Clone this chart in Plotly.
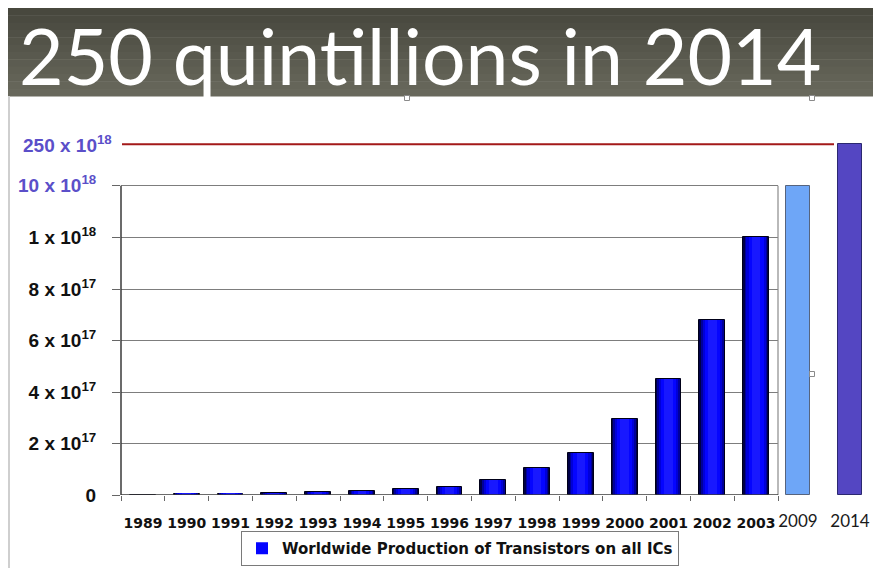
import plotly.graph_objects as go

# ---------------- data ----------------
years_main = ["1989", "1990", "1991", "1992", "1993", "1994", "1995", "1996",
              "1997", "1998", "1999", "2000", "2001", "2002", "2003"]
# worldwide transistor production, in units of 1e17
transistors_main = [0, 0.05, 0.05, 0.06, 0.10, 0.14, 0.24, 0.33,
                    0.58, 1.04, 1.62, 2.94, 4.50, 6.80, 10.16]
years_extra = ["2009", "2014"]
transistors_extra = [100, 2500]          # 10 x 10^18 and 250 x 10^18
reference_value = 2500                   # 250 quintillions line

ytick_values = [0, 2, 4, 6, 8, 10, 100]
PURPLE = "#5b4fc9"
ytick_labels = ["0", "2 x 10<sup>17</sup>", "4 x 10<sup>17</sup>", "6 x 10<sup>17</sup>",
                "8 x 10<sup>17</sup>", "1 x 10<sup>18</sup>",
                f'<span style="color:{PURPLE}">10 x 10<sup>18</sup></span>']
reference_label = "250 x 10<sup>18</sup>"
title_text = "250 quintillions in 2014"
legend_name = "Worldwide Production of Transistors on all ICs"


# broken (piecewise) value axis, as in the slide
def scale(u):
    if u <= 10:
        return u
    if u <= 100:
        return 10 + (u - 10) * (2.01 / 90)
    return 12.01 + (u - 100) * (1.61 / 2400)


def scale_list(vals):
    return [scale(v) for v in vals]


# the page body has an 8px margin: the figure starts at (8, 8) in the window
OFF = 8
W, H = 881 - OFF, 576 - 2 * OFF


def px_x(p):
    return min(1.0, max(0.0, (p - OFF) / W))


def px_y(p):
    return min(1.0, max(0.0, 1 - (p - OFF) / H))


PX_PER_UNIT = 25.75
Y_ZERO_PX, Y_TOP_PX = 495, 100
y_range = [0, (Y_ZERO_PX - Y_TOP_PX) / PX_PER_UNIT]
y_domain = [px_y(Y_ZERO_PX), px_y(Y_TOP_PX)]
X_LEFT_PX, X_RIGHT_PX = 121, 778

fig = go.Figure()

# gradient-like bars built from overlaid layers
layers = [
    (0.587, "#000048", dict(color="#000018", width=1), False),
    (0.52, "#00009a", dict(width=0), False),
    (0.44, "#0000d8", dict(width=0), False),
    (0.34, "#0505ff", dict(color="#0000e0", width=0), True),
    (0.20, "#1818ff", dict(width=0), False),
]
for w, c, ln, leg in layers:
    fig.add_trace(go.Bar(
        x=years_main, y=scale_list(transistors_main), width=w,
        marker=dict(color=c, line=ln),
        name=legend_name, showlegend=leg,
        xaxis="x", yaxis="y"))

fig.add_trace(go.Bar(
    x=years_extra, y=scale_list(transistors_extra), width=0.48,
    marker=dict(color=["#6ea6f7", "#5446c2"],
                line=dict(color=["#56647e", "#2b2870"], width=1)),
    showlegend=False, xaxis="x2", yaxis="y2"))

shapes = []
# header band with soft vertical gradient
n = 12
top, bot = 8, 96
c0, c1 = (72, 72, 62), (104, 104, 92)
for i in range(n):
    t = i / (n - 1)
    col = tuple(int(c0[k] + (c1[k] - c0[k]) * t) for k in range(3))
    y0 = top + (bot - top) * i / n
    y1 = top + (bot - top) * (i + 1) / n
    shapes.append(dict(type="rect", xref="paper", yref="paper",
                       x0=0, x1=1.0, y0=px_y(y1 + 0.5), y1=px_y(y0),
                       fillcolor="rgb(%d,%d,%d)" % col, line=dict(width=0), layer="below"))
# left slide border
shapes.append(dict(type="line", xref="paper", yref="paper", x0=px_x(9), x1=px_x(9),
                   y0=0, y1=px_y(96), line=dict(color="#cfcfcf", width=2)))
# frame of the chart
top_val = scale(100)
xl, xr = px_x(X_LEFT_PX), px_x(X_RIGHT_PX)
shapes.append(dict(type="line", xref="paper", yref="y", x0=xl, x1=xl, y0=0, y1=top_val,
                   line=dict(color="#3a3a3a", width=1.5)))
shapes.append(dict(type="line", xref="paper", yref="y", x0=xr, x1=xr, y0=0, y1=top_val,
                   line=dict(color="#8a8a8a", width=1.2)))
shapes.append(dict(type="line", xref="paper", yref="y", x0=xl, x1=xr, y0=0, y1=0,
                   line=dict(color="#3a3a3a", width=1.5)))
# 250 quintillion reference line
shapes.append(dict(type="line", xref="paper", yref="y", x0=px_x(122), x1=px_x(834),
                   y0=scale(reference_value), y1=scale(reference_value),
                   line=dict(color="#a31919", width=2)))
# little selection handles from the slide
for hx, hy in [(407, 98), (812, 98), (812, 374)]:
    shapes.append(dict(type="rect", xref="paper", yref="paper",
                       x0=px_x(hx - 2.5), x1=px_x(hx + 2.5), y0=px_y(hy + 2.5), y1=px_y(hy - 2.5),
                       fillcolor="white", line=dict(color="#8a8a8a", width=1)))

annotations = [
    dict(text=title_text, xref="paper", yref="paper", x=px_x(18), y=1.0,
         xanchor="left", yanchor="top", showarrow=False, borderpad=0,
         font=dict(family="Lato", size=77, color="white")),
    dict(text=reference_label, xref="paper", yref="y", x=px_x(114), y=scale(reference_value),
         xanchor="right", yanchor="middle", showarrow=False,
         font=dict(family="Liberation Sans", size=19, color=PURPLE, weight="bold")),
]

fig.update_layout(
    width=W, height=H,
    margin=dict(l=0, r=0, t=0, b=0, autoexpand=False),
    paper_bgcolor="white", plot_bgcolor="rgba(0,0,0,0)",
    barmode="overlay", bargap=0,
    shapes=shapes, annotations=annotations,
    showlegend=True,
    legend=dict(orientation="h", x=px_x(460), xanchor="center", y=px_y(566), yanchor="bottom",
                bordercolor="#7a7a7a", borderwidth=1, bgcolor="white",
                font=dict(family="DejaVu Sans", size=15, color="#111111", weight="bold"),
                itemwidth=30),
    xaxis=dict(domain=[xl, xr], type="category", range=[-0.5, 14.5],
               anchor="y", tickson="boundaries", ticks="outside", ticklen=5,
               tickcolor="#666666", showgrid=False, showline=False, zeroline=False,
               tickangle=0, ticklabelstandoff=18,
               tickfont=dict(family="DejaVu Sans", size=14, color="#111111", weight="bold")),
    xaxis2=dict(domain=[px_x(779), px_x(876)], type="category", range=[-0.365, 1.5],
                anchor="y2", ticks="", showgrid=False, showline=False, zeroline=False,
                tickangle=0, ticklabelstandoff=14,
                tickfont=dict(family="Lato", size=17, color="#1a1a1a")),
    yaxis=dict(domain=y_domain, range=y_range, anchor="x",
               tickvals=scale_list(ytick_values), ticktext=ytick_labels,
               ticks="outside", ticklen=8, tickcolor="#666666",
               showgrid=True, gridcolor="#7d7d7d", gridwidth=1,
               zeroline=False, showline=False, ticklabelstandoff=12,
               tickfont=dict(family="Liberation Sans", size=19, color="#111111", weight="bold")),
    yaxis2=dict(domain=y_domain, range=y_range, anchor="x2", showgrid=False,
                showticklabels=False, ticks="", zeroline=False, showline=False),
)

fig.write_html("out.html")
